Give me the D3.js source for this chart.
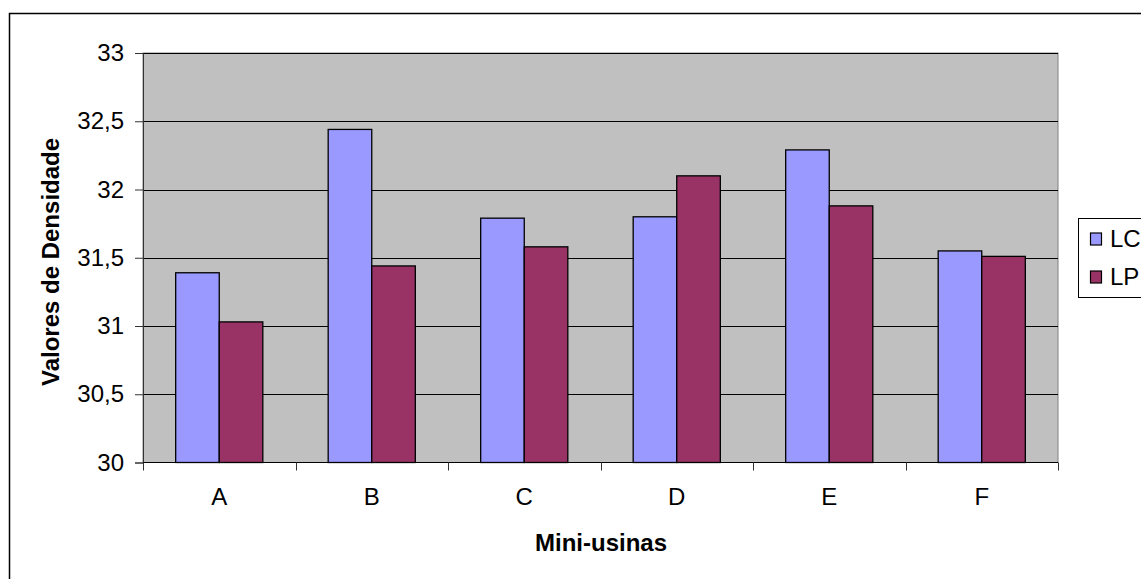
<!DOCTYPE html>
<html><head><meta charset="utf-8">
<script src="https://cdn.jsdelivr.net/npm/d3@7/dist/d3.min.js"></script>
<style>body{margin:0;background:#fff}svg{display:block}text{font-family:"Liberation Sans",Arial,sans-serif}</style>
</head><body>
<script>
const categories = ["A","B","C","D","E","F"];
const seriesNames = ["LC","LP"];
const lcValues = [31.39, 32.44, 31.79, 31.80, 32.29, 31.55];
const lpValues = [31.03, 31.44, 31.58, 32.10, 31.88, 31.51];
const yTicks = [30, 30.5, 31, 31.5, 32, 32.5, 33];
const colors = ["#9999FF", "#993366"];

const W = 1141, H = 579;
const svg = d3.select("body").append("svg").attr("width", W).attr("height", H);
// outer border
svg.append("rect").attr("x", 9.5).attr("y", 13.5).attr("width", W + 20).attr("height", H + 20)
  .attr("fill", "#fff").attr("stroke", "#000").attr("stroke-width", 1.5);

const L = 143, R = 1058, T = 53, B = 462.5;
const x = d3.scaleBand().domain(categories).range([L, R]).paddingInner(0).paddingOuter(0);
const y = d3.scaleLinear().domain([30, 33]).range([B, T]);

// plot background
svg.append("rect").attr("x", L).attr("y", T).attr("width", R - L).attr("height", B - T)
  .attr("fill", "#C0C0C0").attr("stroke", "#808080").attr("stroke-width", 1);

// gridlines
svg.append("g").selectAll("line").data(yTicks.filter(d => d > 30)).join("line")
  .attr("x1", L).attr("x2", R)
  .attr("y1", d => Math.round(y(d)) + 0.5).attr("y2", d => Math.round(y(d)) + 0.5)
  .attr("stroke", "#000").attr("stroke-width", 1);

// bars
const bw = x.bandwidth() / 3.5;
const data = categories.map((c, i) => ({c, vals: [lcValues[i], lpValues[i]]}));
const g = svg.append("g").selectAll("g").data(data).join("g")
  .attr("transform", d => `translate(${x(d.c) + 0.75 * bw},0)`);
g.selectAll("rect").data(d => d.vals.map((v, j) => ({v, j}))).join("rect")
  .attr("x", d => d.j * bw)
  .attr("y", d => y(d.v))
  .attr("width", bw)
  .attr("height", d => y(30) - y(d.v))
  .attr("fill", d => colors[d.j])
  .attr("stroke", "#000").attr("stroke-width", 1.3);

// y axis
const yAxis = d3.axisLeft(y).tickValues(yTicks).tickSize(8).tickPadding(11)
  .tickFormat(d => String(d).replace(".", ","));
const ya = svg.append("g").attr("transform", `translate(${L},0)`).call(yAxis);
ya.attr("font-size", null).attr("font-family", null);
ya.select(".domain").attr("stroke", "#333");
ya.selectAll(".tick line").attr("stroke", "#333");
ya.selectAll("text").style("font-size", "24px").attr("fill", "#000");

// x axis
const xa = svg.append("g").attr("transform", `translate(0,${B})`);
xa.append("line").attr("x1", L).attr("x2", R).attr("stroke", "#000");
xa.selectAll("line.t").data(d3.range(categories.length + 1)).join("line").attr("class", "t")
  .attr("x1", i => Math.round(L + i * x.bandwidth()) + 0.5).attr("x2", i => Math.round(L + i * x.bandwidth()) + 0.5)
  .attr("y1", 0).attr("y2", 8).attr("stroke", "#333");
xa.selectAll("text").data(categories).join("text")
  .attr("x", d => x(d) + x.bandwidth() / 2).attr("y", 505 - B)
  .attr("text-anchor", "middle").style("font-size", "24px").text(d => d);

// axis titles
svg.append("text").attr("x", 601).attr("y", 551).attr("text-anchor", "middle")
  .style("font-size", "24px").attr("font-weight", "bold").text("Mini-usinas");
svg.append("text").attr("transform", "translate(59,262) rotate(-90)").attr("text-anchor", "middle")
  .style("font-size", "24px").attr("font-weight", "bold").text("Valores de Densidade");

// legend
const lg = svg.append("g");
lg.append("rect").attr("x", 1078.5).attr("y", 218.5).attr("width", 80).attr("height", 79)
  .attr("fill", "#fff").attr("stroke", "#000").attr("stroke-width", 1);
seriesNames.forEach((s, i) => {
  const base = 247 + i * 38;
  lg.append("rect").attr("x", 1090.5).attr("y", base - 14).attr("width", 11).attr("height", 12)
    .attr("fill", colors[i]).attr("stroke", "#000").attr("stroke-width", 1.2);
  lg.append("text").attr("x", 1110).attr("y", base).style("font-size", "24px").text(s);
});
</script>
</body></html>
